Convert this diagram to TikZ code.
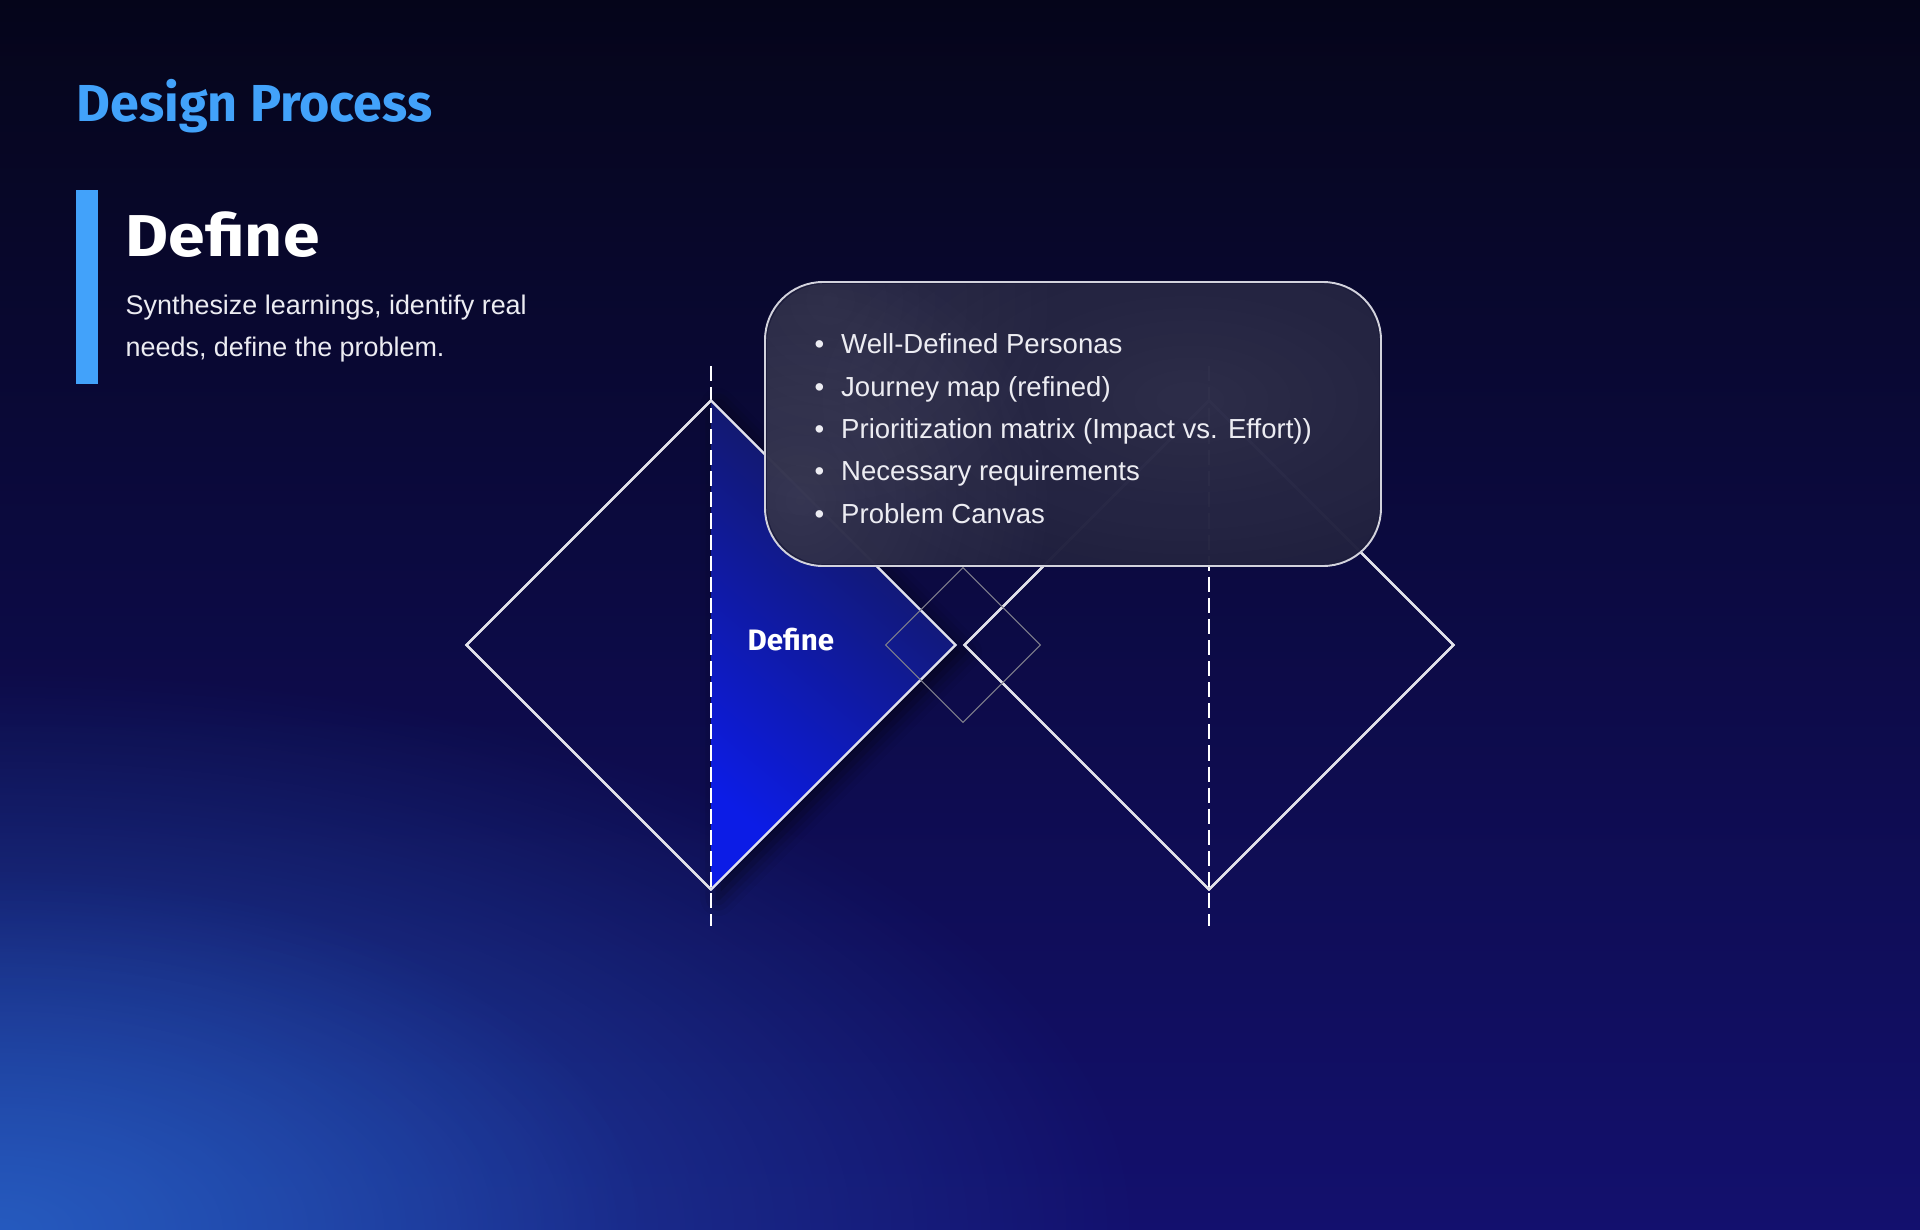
\documentclass[tikz,border=0pt]{standalone}
\usepackage{fontspec}
\setmainfont{Liberation Sans}
\newfontfamily\headfont{Fira Sans}
\newfontfamily\headwide{Fira Sans}[FakeStretch=1.12]
\usepackage{xcolor}
\usepackage{tikz}
\usetikzlibrary{shapes.geometric,positioning,calc,fadings,shadows.blur}

\definecolor{bgtop}{HTML}{05051A}
\definecolor{bgmid}{HTML}{08083A}
\definecolor{bgbot}{HTML}{13106E}
\definecolor{glowblue}{HTML}{2A6AD0}
\definecolor{accent}{HTML}{42A2FA}
\definecolor{tritop}{HTML}{141850}
\definecolor{tribot}{HTML}{0C1CE6}
\definecolor{linew}{HTML}{E2E2EA}
\definecolor{glass}{HTML}{1E1E3C}
\definecolor{glassedge}{HTML}{D2D2DC}
\definecolor{softtext}{HTML}{ECECF2}

\tikzfading[name=glowfade, inner color=transparent!0, outer color=transparent!100]

\begin{document}
\begin{tikzpicture}[
		bigdia/.style={draw=linew, line width=0.65pt, diamond, aspect=1, minimum width=4.9cm, minimum height=4.9cm, inner sep=0pt},
		smalldia/.style={draw=linew!55!bgtop, line width=0.3pt, diamond, aspect=1, minimum width=1.55cm, minimum height=1.55cm, inner sep=0pt},
		midline/.style={draw=white, line width=0.6pt, dash pattern=on 4.3pt off 1.7pt},
		bodytext/.style={anchor=base west, inner sep=0pt, text=softtext, font=\fontsize{7.66}{12}\selectfont},
		bullettext/.style={anchor=base west, inner sep=0pt, text=softtext, font=\fontsize{7.84}{12}\selectfont}
	]
		\useasboundingbox (0,0) rectangle (19.2,-12.3);

		% background
		\shade[top color=bgtop, middle color=bgmid, bottom color=bgbot] (0,0) rectangle (19.2,-12.3);
		\begin{scope}
			\clip (0,0) rectangle (19.2,-12.3);
			\fill[glowblue, opacity=0.65, path fading=glowfade] (0,-12.3) ellipse (11.4 and 5.6);
			\fill[glowblue, opacity=0.5, path fading=glowfade] (0,-12.3) ellipse (6.5 and 3.6);
		\end{scope}

		% heading
		\node[anchor=base west, inner sep=0pt, text=accent, font=\headfont\bfseries\fontsize{14.8}{16}\selectfont] (title) at (0.76,-1.217) {Design Process};
		\node[fill=accent, minimum width=0.22cm, minimum height=1.94cm, inner sep=0pt, anchor=north west] (bar) at (0.75,-1.89) {};
		\node[anchor=base west, inner sep=0pt, text=white, font=\headwide\bfseries\fontsize{16.8}{20}\selectfont] (phase) at (1.25,-2.567) {Define};
		\node[bodytext] (desc1) at (1.25,-3.15) {Synthesize learnings, identify real};
		\node[bodytext] (desc2) at (1.25,-3.567) {needs, define the problem.};

		% diamonds
		\node[bigdia] (ldia) at (7.11,-6.45) {};
		\node[bigdia] (rdia) at (12.09,-6.45) {};

		\path[blur shadow={shadow xshift=2pt, shadow yshift=-2pt, shadow blur radius=5pt, shadow opacity=55}]
			(ldia.north) -- (ldia.east) -- (ldia.south) -- cycle;
		\shade[bottom color=tribot, top color=tritop, shading angle=-40]
			(ldia.north) -- (ldia.east) -- (ldia.south) -- cycle;

		\draw[midline] ($(ldia.north)+(0,0.33)$) -- ($(ldia.south)+(0,-0.35)$);
		\draw[midline] ($(rdia.north)+(0,0.33)$) -- ($(rdia.south)+(0,-0.35)$);
		\node[bigdia] at (ldia) {};
		\node[bigdia] at (rdia) {};
		\node[smalldia] (mid) at (9.63,-6.45) {};

		\node[anchor=base west, inner sep=0pt, text=white, font=\headfont\bfseries\fontsize{8.4}{10}\selectfont] (label) at (7.47,-6.507) {Define};

		% glass box
		\node[draw=glassedge, line width=0.55pt, fill=glass, fill opacity=0.98, rounded corners=0.58cm, minimum width=6.16cm, minimum height=2.84cm, inner sep=0pt] (box) at (10.73,-4.24) {};
		\begin{scope}
			\clip[rounded corners=0.58cm] ($(box.south west)+(0.03,0.03)$) rectangle ($(box.north east)+(-0.03,-0.03)$);
			\fill[white, opacity=0.10, path fading=glowfade] (8.0,-5.0) circle (2.6);
			\fill[white, opacity=0.07, path fading=glowfade] (11.9,-4.0) ellipse (4.0 and 2.2);
			\fill[white, opacity=0.06, path fading=glowfade] (8.3,-3.0) circle (2.4);
		\end{scope}

		\node[bullettext] (item1) at (8.14,-3.54) {\textbullet\hspace{4.8pt}Well-Defined Personas};
		\node[bullettext] (item2) at (8.14,-3.96) {\textbullet\hspace{4.8pt}Journey map (refined)};
		\node[bullettext] (item3) at (8.14,-4.38) {\textbullet\hspace{4.8pt}Prioritization matrix (Impact vs. Effort))};
		\node[bullettext] (item4) at (8.14,-4.80) {\textbullet\hspace{4.8pt}Necessary requirements};
		\node[bullettext] (item5) at (8.14,-5.23) {\textbullet\hspace{4.8pt}Problem Canvas};
	\end{tikzpicture}
\end{document}
